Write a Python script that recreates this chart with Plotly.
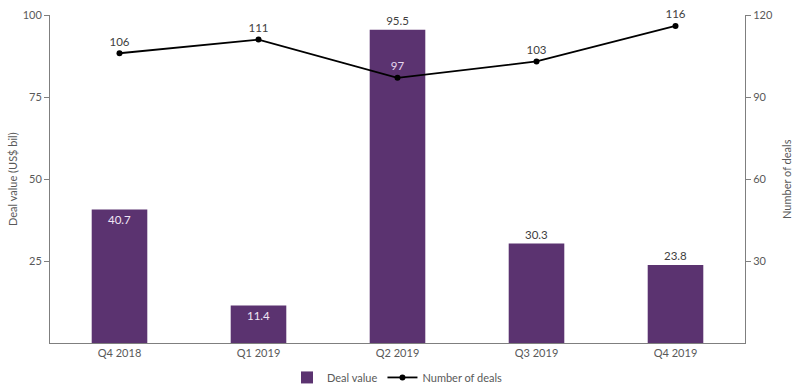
import plotly.graph_objects as go

categories = ["Q4 2018", "Q1 2019", "Q2 2019", "Q3 2019", "Q4 2019"]
deal_value = [40.7, 11.4, 95.5, 30.3, 23.8]
num_deals = [106, 111, 97, 103, 116]
bar_text_pos = ["inside", "inside", "outside", "outside", "outside"]
line_text_colors = ["#404040", "#404040", "#E6D8F0", "#404040", "#404040"]

BAR = "#5B3370"
FONT = "Lato, Open Sans, Liberation Sans, sans-serif"

fig = go.Figure()
fig.add_trace(go.Bar(
    x=categories, y=deal_value, name="Deal value",
    marker=dict(color=BAR, line=dict(width=0)), width=0.4,
    text=[f"{v:g}" for v in deal_value], textposition=bar_text_pos,
    insidetextanchor="end",
    insidetextfont=dict(color="#F0E6F5", size=11.5, family=FONT),
    outsidetextfont=dict(color="#404040", size=11.5, family=FONT),
    cliponaxis=False,
))
fig.add_trace(go.Scatter(
    x=categories, y=num_deals, name="Number of deals", yaxis="y2",
    mode="lines+markers+text", line=dict(color="black", width=1.8),
    marker=dict(color="black", size=6),
    text=[str(v) for v in num_deals], textposition="top center",
    textfont=dict(color=line_text_colors, size=11.5, family=FONT),
    cliponaxis=False,
))

fig.update_layout(
    width=800, height=389,
    margin=dict(l=50, r=55, t=15, b=46, autoexpand=False),
    plot_bgcolor="white", paper_bgcolor="white",
    font=dict(family=FONT, size=11, color="#595959"),
    showlegend=True,
    legend=dict(orientation="h", x=0.5, xanchor="center", y=-0.105, yanchor="middle",
                font=dict(size=11), traceorder="normal"),
    xaxis=dict(type="category", range=[-0.5, 4.5], showline=True, linecolor="#7F7F7F",
               linewidth=1, ticks="", showgrid=False, tickfont=dict(size=11),
               automargin=False),
    yaxis=dict(range=[0, 100], tickvals=[25, 50, 75, 100], showline=True,
               linecolor="#7F7F7F", linewidth=1, ticks="outside", ticklen=5,
               tickcolor="#7F7F7F", showgrid=False, zeroline=False, automargin=False),
    yaxis2=dict(range=[0, 120], tickvals=[30, 60, 90, 120], overlaying="y", side="right",
                showline=True, linecolor="#7F7F7F", linewidth=1, ticks="outside",
                ticklen=5, tickcolor="#7F7F7F", showgrid=False, zeroline=False,
                automargin=False),
    annotations=[
        dict(text="Deal value (US$ bil)", xref="paper", yref="paper", x=-0.0547, y=0.5,
             xanchor="center", yanchor="middle",
             textangle=-90, showarrow=False, font=dict(size=11, color="#595959")),
        dict(text="Number of deals", xref="paper", yref="paper", x=1.059, y=0.5,
             xanchor="center", yanchor="middle",
             textangle=-90, showarrow=False, font=dict(size=11, color="#595959")),
    ],
)

fig.write_html("out.html", config={"displayModeBar": False},
               post_script="document.body.style.margin='0';")
